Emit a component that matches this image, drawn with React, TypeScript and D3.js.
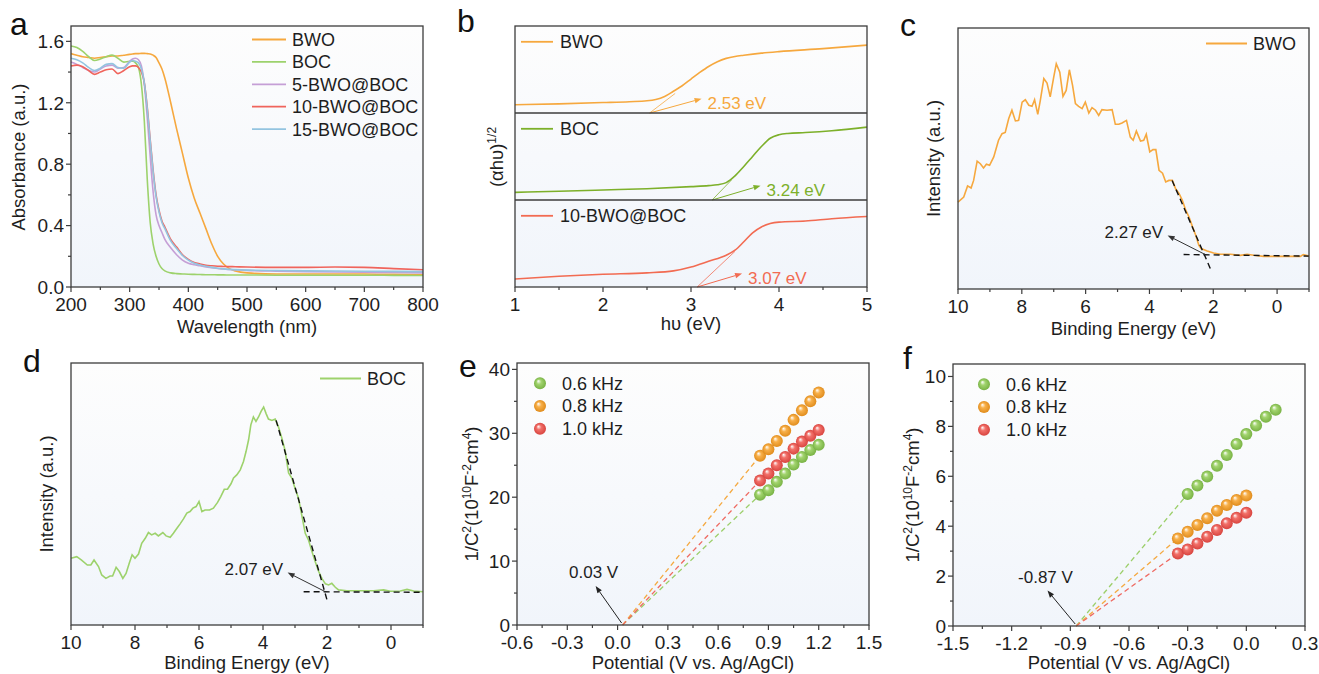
import React from 'react';
import * as d3 from 'd3';

const FONT = '"Liberation Sans", Arial, Helvetica, sans-serif';
const INK = '#1e1e1e';
const FRAME = '#3c3c3c';

// ---------- panel a : UV-vis absorbance ----------
const wavelengths = [200, 210, 220, 230, 240, 250, 260, 270, 280, 290, 300, 305, 310, 315, 320, 325, 330, 335, 340, 345, 350, 355, 360, 370, 380, 390, 400, 410, 420, 430, 440, 450, 460, 470, 480, 500, 550, 600, 650, 700, 750, 800];
const absBWO = [1.52, 1.51, 1.5, 1.495, 1.49, 1.495, 1.5, 1.505, 1.505, 1.51, 1.515, 1.518, 1.52, 1.52, 1.522, 1.522, 1.52, 1.518, 1.51, 1.495, 1.46, 1.42, 1.36, 1.2, 1.03, 0.87, 0.71, 0.58, 0.48, 0.38, 0.28, 0.2, 0.15, 0.12, 0.105, 0.092, 0.085, 0.085, 0.085, 0.085, 0.082, 0.08];
const absBOC = [1.57, 1.56, 1.535, 1.5, 1.475, 1.485, 1.5, 1.51, 1.49, 1.465, 1.47, 1.47, 1.46, 1.43, 1.32, 1.08, 0.7, 0.42, 0.28, 0.2, 0.15, 0.12, 0.105, 0.092, 0.087, 0.085, 0.083, 0.082, 0.081, 0.08, 0.08, 0.079, 0.079, 0.078, 0.078, 0.078, 0.077, 0.077, 0.077, 0.077, 0.076, 0.075];
const abs5 = [1.465, 1.45, 1.43, 1.41, 1.4, 1.42, 1.44, 1.445, 1.425, 1.43, 1.47, 1.485, 1.49, 1.48, 1.44, 1.32, 1.1, 0.85, 0.62, 0.47, 0.4, 0.355, 0.31, 0.255, 0.21, 0.175, 0.155, 0.145, 0.138, 0.13, 0.125, 0.12, 0.117, 0.114, 0.112, 0.108, 0.103, 0.1, 0.098, 0.096, 0.094, 0.092];
const abs10 = [1.44, 1.445, 1.435, 1.41, 1.385, 1.4, 1.415, 1.42, 1.39, 1.41, 1.435, 1.44, 1.44, 1.43, 1.4, 1.33, 1.17, 0.96, 0.76, 0.6, 0.5, 0.43, 0.39, 0.31, 0.26, 0.21, 0.18, 0.16, 0.15, 0.142, 0.138, 0.135, 0.134, 0.133, 0.132, 0.13, 0.128, 0.128, 0.13, 0.128, 0.12, 0.112];
const abs15 = [1.49, 1.48, 1.46, 1.43, 1.41, 1.425, 1.45, 1.455, 1.43, 1.425, 1.465, 1.475, 1.47, 1.46, 1.42, 1.33, 1.16, 0.95, 0.75, 0.59, 0.49, 0.42, 0.38, 0.3, 0.25, 0.205, 0.175, 0.155, 0.143, 0.135, 0.128, 0.122, 0.118, 0.115, 0.113, 0.11, 0.107, 0.105, 0.104, 0.103, 0.102, 0.1];
const absSeries = [
  { name: 'BWO', color: '#F6A83E', values: absBWO },
  { name: 'BOC', color: '#9DD26C', values: absBOC },
  { name: '5-BWO@BOC', color: '#C59FD6', values: abs5 },
  { name: '10-BWO@BOC', color: '#F0645C', values: abs10 },
  { name: '15-BWO@BOC', color: '#93C4E0', values: abs15 },
];

// ---------- panel b : Tauc plots (normalised per sub-panel) ----------
const taucBWO: [number, number][] = [[1, 0.095], [1.5, 0.105], [2, 0.12], [2.3, 0.13], [2.5, 0.14], [2.6, 0.155], [2.7, 0.19], [2.8, 0.25], [2.9, 0.313], [3.0, 0.39], [3.1, 0.466], [3.2, 0.535], [3.3, 0.59], [3.4, 0.628], [3.5, 0.65], [3.6, 0.664], [3.8, 0.688], [4.0, 0.706], [4.5, 0.74], [5, 0.78]];
const taucBOC: [number, number][] = [[1, 0.088], [1.5, 0.1], [2, 0.115], [2.5, 0.13], [3, 0.154], [3.2, 0.165], [3.3, 0.175], [3.4, 0.2], [3.5, 0.277], [3.6, 0.385], [3.7, 0.5], [3.8, 0.615], [3.9, 0.71], [4.0, 0.75], [4.1, 0.765], [4.3, 0.775], [4.6, 0.796], [5, 0.838]];
const tauc10: [number, number][] = [[1, 0.092], [1.5, 0.123], [2, 0.146], [2.5, 0.162], [2.8, 0.185], [3.0, 0.23], [3.2, 0.296], [3.4, 0.365], [3.5, 0.423], [3.6, 0.52], [3.7, 0.623], [3.8, 0.69], [3.9, 0.73], [4.0, 0.746], [4.3, 0.758], [4.6, 0.785], [5, 0.81]];
const bandGaps = [2.53, 3.24, 3.07];
const tangentTops: [number, number][] = [[2.82, 0.225], [3.46, 0.23], [3.5, 0.41]];
const arrowTips: [number, number][] = [[3.12, 0.164], [3.79, 0.165], [3.58, 0.154]];
const taucPanels = [
  { name: 'BWO', color: '#F6A83E', pts: taucBWO },
  { name: 'BOC', color: '#7DB02A', pts: taucBOC },
  { name: '10-BWO@BOC', color: '#F26B52', pts: tauc10 },
];

// ---------- panels c, d : VB-XPS ----------
const vbBWO: [number, number][] = [[10.0, 33.3], [9.82, 35.2], [9.7, 39.5], [9.59, 38.7], [9.51, 41.6], [9.4, 49.0], [9.3, 48.0], [9.2, 46.4], [9.11, 47.8], [9.01, 47.4], [8.88, 50.6], [8.73, 57.0], [8.62, 59.5], [8.52, 60.0], [8.41, 65.3], [8.31, 68.5], [8.2, 64.4], [8.1, 64.6], [7.99, 71.6], [7.89, 72.5], [7.78, 70.4], [7.68, 70.0], [7.6, 72.5], [7.5, 66.9], [7.42, 72.3], [7.31, 80.6], [7.21, 78.9], [7.11, 73.6], [7.0, 81.2], [6.92, 86.3], [6.81, 83.1], [6.71, 73.8], [6.61, 76.1], [6.51, 84.0], [6.41, 78.0], [6.32, 71.0], [6.22, 70.0], [6.11, 69.1], [6.01, 71.6], [5.9, 67.4], [5.8, 69.5], [5.69, 68.5], [5.59, 66.5], [5.49, 68.7], [5.33, 68.5], [5.17, 68.7], [5.07, 63.1], [4.96, 63.1], [4.86, 63.6], [4.72, 64.6], [4.6, 58.2], [4.51, 57.0], [4.41, 60.5], [4.28, 56.7], [4.18, 57.0], [4.1, 59.3], [3.99, 52.5], [3.89, 53.4], [3.8, 53.4], [3.7, 45.5], [3.59, 44.4], [3.49, 41.0], [3.39, 41.6], [3.28, 41.6], [3.18, 38.4], [3.07, 36.5], [2.97, 34.0], [2.86, 30.1], [2.76, 27.6], [2.65, 23.8], [2.55, 20.6], [2.45, 16.7], [2.38, 15.5], [2.19, 14.6], [1.99, 13.8], [1.78, 13.3], [1.46, 13.3], [1.15, 12.9], [0.94, 13.3], [0.73, 12.9], [0.42, 12.5], [0.21, 12.5], [-0.1, 12.5], [-0.52, 12.5], [-0.73, 12.5], [-0.82, 13.2], [-1.0, 12.6]];
const vbBOC: [number, number][] = [[10.0, 25.5], [9.82, 26.1], [9.67, 24.8], [9.49, 22.9], [9.38, 22.9], [9.28, 24.8], [9.14, 22.3], [9.04, 19.1], [8.91, 17.8], [8.78, 18.7], [8.7, 18.7], [8.59, 22.0], [8.49, 20.4], [8.38, 17.8], [8.28, 19.7], [8.18, 23.6], [8.09, 26.8], [8.0, 25.5], [7.89, 27.1], [7.79, 31.2], [7.68, 33.1], [7.58, 35.3], [7.48, 34.4], [7.37, 35.0], [7.27, 34.0], [7.13, 35.3], [7.03, 34.0], [6.9, 33.5], [6.8, 35.0], [6.69, 36.9], [6.59, 38.6], [6.49, 40.4], [6.38, 42.7], [6.28, 43.3], [6.19, 44.6], [6.09, 45.2], [6.0, 47.1], [5.91, 43.3], [5.81, 43.9], [5.67, 43.9], [5.55, 44.6], [5.42, 46.8], [5.32, 49.0], [5.21, 51.8], [5.11, 51.8], [5.0, 53.9], [4.92, 56.1], [4.82, 57.3], [4.71, 59.2], [4.61, 62.4], [4.53, 66.2], [4.45, 70.7], [4.38, 76.4], [4.3, 79.4], [4.22, 77.7], [4.14, 79.4], [4.06, 81.5], [3.98, 83.2], [3.9, 80.6], [3.83, 78.6], [3.72, 78.1], [3.62, 78.6], [3.52, 75.8], [3.41, 71.3], [3.31, 66.6], [3.2, 58.0], [3.1, 56.1], [2.99, 51.8], [2.89, 48.4], [2.78, 41.4], [2.68, 35.0], [2.58, 32.5], [2.47, 28.0], [2.37, 24.2], [2.26, 20.4], [2.16, 17.8], [2.05, 15.7], [1.95, 15.3], [1.85, 15.9], [1.74, 14.4], [1.64, 13.4], [1.38, 13.1], [0.96, 13.1], [0.54, 13.1], [0.23, 13.4], [0.02, 12.9], [-0.29, 13.0], [-0.5, 13.6], [-0.71, 13.0], [-1.0, 12.7]];
const vbBWOfit = { slope: [[3.29, 41.6], [2.06, 6.9]] as [number, number][], base: [[2.93, 13.2], [-1.0, 12.6]] as [number, number][], edge: 2.27 };
const vbBOCfit = { slope: [[3.59, 78.1], [2.0, 9.6]] as [number, number][], base: [[2.73, 12.7], [-1.0, 12.5]] as [number, number][], edge: 2.07 };

// ---------- panels e, f : Mott-Schottky ----------
const freqLabels = ['0.6 kHz', '0.8 kHz', '1.0 kHz'];
const msE_V = [0.85, 0.9, 0.95, 1.0, 1.05, 1.1, 1.15, 1.2];
const msE_06 = [20.4, 21.1, 22.4, 23.7, 25.1, 26.3, 27.4, 28.2];
const msE_08 = [26.5, 27.5, 28.8, 30.4, 32.1, 33.6, 35.0, 36.4];
const msE_10 = [22.6, 23.7, 25.0, 26.3, 27.6, 28.7, 29.6, 30.5];
const msE_fb = 0.03;
const msF_V06 = [-0.3, -0.25, -0.2, -0.15, -0.1, -0.05, 0, 0.05, 0.1, 0.15];
const msF_V = [-0.35, -0.3, -0.25, -0.2, -0.15, -0.1, -0.05, 0];
const msF_06 = [5.29, 5.63, 5.99, 6.42, 6.85, 7.29, 7.69, 8.04, 8.39, 8.67];
const msF_08 = [3.51, 3.78, 4.05, 4.32, 4.62, 4.85, 5.05, 5.23];
const msF_10 = [2.91, 3.07, 3.31, 3.58, 3.85, 4.12, 4.34, 4.54];
const msF_fb = -0.87;

const sphereColors = [
  { id: 'sg', base: '#A2D46E', dark: '#78B244' },
  { id: 'so', base: '#F8B04A', dark: '#E08C1C' },
  { id: 'sr', base: '#F2716A', dark: '#D8443F' },
];
const msLine = ['#9CCF6A', '#F5A940', '#EF6A62'];

type Box = { l: number; r: number; t: number; b: number };
const boxA: Box = { l: 71, r: 423, t: 26, b: 287 };
const boxB: Box = { l: 515, r: 867, t: 26, b: 287 };
const boxC: Box = { l: 958, r: 1309, t: 28, b: 289 };
const boxD: Box = { l: 71, r: 423, t: 363, b: 625 };
const boxE: Box = { l: 517, r: 869, t: 363, b: 625 };
const boxF: Box = { l: 953, r: 1305, t: 364, b: 626 };

const TICK = 19;
const TITLE = 18.5;
const titleY = (box: Box) => Math.min(box.b + 46, 669);
const fmt1 = (v: number) => d3.format('.1f')(v).replace('−', '-');

function Frame({ box }: { box: Box }) {
  return <rect x={box.l} y={box.t} width={box.r - box.l} height={box.b - box.t} fill="none" stroke={FRAME} strokeWidth={1.3} />;
}
function Bg({ box }: { box: Box }) {
  return <rect x={box.l} y={box.t} width={box.r - box.l} height={box.b - box.t} fill="url(#plotBg)" />;
}

function XAxis({ s, box, major, minor, fmt }: { s: d3.ScaleLinear<number, number>; box: Box; major: number[]; minor: number[]; fmt: (v: number) => string }) {
  return (
    <g>
      {minor.map((v) => <line key={'m' + v} x1={s(v)} x2={s(v)} y1={box.b} y2={box.b + 3} stroke={FRAME} strokeWidth={1.2} />)}
      {major.map((v) => (
        <g key={'M' + v}>
          <line x1={s(v)} x2={s(v)} y1={box.b} y2={box.b + 5} stroke={FRAME} strokeWidth={1.2} />
          <text x={s(v)} y={box.b + 24} textAnchor="middle" fontSize={TICK} fill={INK}>{fmt(v)}</text>
        </g>
      ))}
    </g>
  );
}
function YAxis({ s, box, major, minor, fmt }: { s: d3.ScaleLinear<number, number>; box: Box; major: number[]; minor: number[]; fmt: (v: number) => string }) {
  return (
    <g>
      {minor.map((v) => <line key={'m' + v} y1={s(v)} y2={s(v)} x1={box.l} x2={box.l - 3} stroke={FRAME} strokeWidth={1.2} />)}
      {major.map((v) => (
        <g key={'M' + v}>
          <line y1={s(v)} y2={s(v)} x1={box.l} x2={box.l - 5} stroke={FRAME} strokeWidth={1.2} />
          <text x={box.l - 7} y={s(v)} dy="0.36em" textAnchor="end" fontSize={TICK} fill={INK}>{fmt(v)}</text>
        </g>
      ))}
    </g>
  );
}

function Arrow({ x1, y1, x2, y2, color, head = 7 }: { x1: number; y1: number; x2: number; y2: number; color: string; head?: number }) {
  const a = Math.atan2(y2 - y1, x2 - x1);
  const bx = x2 - head * Math.cos(a);
  const by = y2 - head * Math.sin(a);
  const hw = head * 0.38;
  const pts = [[x2, y2], [bx - hw * Math.sin(a), by + hw * Math.cos(a)], [bx + hw * Math.sin(a), by - hw * Math.cos(a)]];
  return (
    <g>
      <line x1={x1} y1={y1} x2={bx} y2={by} stroke={color} strokeWidth={1} />
      <polygon points={pts.map((p) => p.join(',')).join(' ')} fill={color} />
    </g>
  );
}

function PanelLetter({ x, y, t, size = 32 }: { x: number; y: number; t: string; size?: number }) {
  return <text x={x} y={y} fontSize={size} fill="#111">{t}</text>;
}

const range = (a: number, b: number, step: number) => d3.range(Math.round((b - a) / step) + 1).map((i) => +(a + i * step).toFixed(4));

function PanelA() {
  const x = d3.scaleLinear().domain([200, 800]).range([boxA.l, boxA.r]);
  const y = d3.scaleLinear().domain([0, 1.7]).range([boxA.b, boxA.t]);
  const line = d3.line<number>().x((_, i) => x(wavelengths[i])).y((v) => y(v)).curve(d3.curveMonotoneX);
  return (
    <g>
      <Bg box={boxA} />
      {absSeries.map((s) => <path key={s.name} d={line(s.values) || ''} fill="none" stroke={s.color} strokeWidth={1.6} />)}
      {absSeries.map((s, i) => (
        <g key={'lg' + s.name}>
          <line x1={252} x2={286} y1={39.5 + i * 22.4} y2={39.5 + i * 22.4} stroke={s.color} strokeWidth={1.8} />
          <text x={292} y={39.5 + i * 22.4} dy="0.36em" fontSize={18} fill={INK}>{s.name}</text>
        </g>
      ))}
      <Frame box={boxA} />
      <XAxis s={x} box={boxA} major={range(200, 800, 100)} minor={range(250, 750, 100)} fmt={(v) => String(v)} />
      <YAxis s={y} box={boxA} major={range(0, 1.6, 0.4)} minor={range(0.2, 1.4, 0.4)} fmt={fmt1} />
      <text x={(boxA.l + boxA.r) / 2} y={333} textAnchor="middle" fontSize={TITLE} fill={INK}>Wavelength (nm)</text>
      <text transform={`translate(25,157) rotate(-90)`} textAnchor="middle" fontSize={TITLE} fill={INK}>Absorbance (a.u.)</text>
      <PanelLetter x={10} y={35} t="a" />
    </g>
  );
}

function PanelB() {
  const x = d3.scaleLinear().domain([1, 5]).range([boxB.l, boxB.r]);
  const h = (boxB.b - boxB.t) / 3;
  return (
    <g>
      <Bg box={boxB} />
      {taucPanels.map((p, i) => {
        const top = boxB.t + i * h;
        const y = d3.scaleLinear().domain([0, 1]).range([top + h, top]);
        const line = d3.line<[number, number]>().x((d) => x(d[0])).y((d) => y(d[1])).curve(d3.curveMonotoneX);
        const g = bandGaps[i];
        const tt = tangentTops[i];
        const at = arrowTips[i];
        return (
          <g key={p.name}>
            <path d={line(p.pts) || ''} fill="none" stroke={p.color} strokeWidth={1.6} />
            <line x1={x(g)} y1={y(0)} x2={x(tt[0])} y2={y(tt[1])} stroke={p.color} strokeWidth={0.9} opacity={0.85} />
            <Arrow x1={x(g)} y1={y(0)} x2={x(at[0])} y2={y(at[1])} color={p.color} />
            <text x={x(at[0]) + 6} y={y(at[1]) + 10} fontSize={17} fill={p.color}>{g.toFixed(2)} eV</text>
            <line x1={521} x2={553} y1={top + 15.8} y2={top + 15.8} stroke={p.color} strokeWidth={1.8} />
            <text x={560} y={top + 15.8} dy="0.36em" fontSize={18} fill={INK}>{p.name}</text>
            {i > 0 && <line x1={boxB.l} x2={boxB.r} y1={top} y2={top} stroke={FRAME} strokeWidth={1.3} />}
          </g>
        );
      })}
      <Frame box={boxB} />
      <XAxis s={x} box={boxB} major={range(1, 5, 1)} minor={range(1.5, 4.5, 1)} fmt={(v) => String(v)} />
      <text x={(boxB.l + boxB.r) / 2} y={330} textAnchor="middle" fontSize={TITLE} fill={INK}>hυ (eV)</text>
      <text transform={`translate(503,157) rotate(-90)`} textAnchor="middle" fontSize={TITLE} fill={INK}>
        (αhυ)<tspan dy={-7} fontSize={12}>1/2</tspan>
      </text>
      <PanelLetter x={457} y={32} t="b" />
    </g>
  );
}

function VBPanel({ box, data, fit, color, name, letter, letterPos, ylabX }: { box: Box; data: [number, number][]; fit: typeof vbBWOfit; color: string; name: string; letter: string; letterPos: [number, number]; ylabX: number }) {
  const x = d3.scaleLinear().domain([10, -1]).range([box.l, box.r]);
  const y = d3.scaleLinear().domain([0, 100]).range([box.b, box.t]);
  const line = d3.line<[number, number]>().x((d) => x(d[0])).y((d) => y(d[1]));
  const fitY = fit.base[0][1];
  return (
    <g>
      <Bg box={box} />
      <path d={line(data) || ''} fill="none" stroke={color} strokeWidth={1.6} />
      <line x1={x(fit.slope[0][0])} y1={y(fit.slope[0][1])} x2={x(fit.slope[1][0])} y2={y(fit.slope[1][1])} stroke="#111" strokeWidth={1.4} strokeDasharray="6 4" />
      <line x1={x(fit.base[0][0])} y1={y(fit.base[0][1])} x2={x(fit.base[1][0])} y2={y(fit.base[1][1])} stroke="#111" strokeWidth={1.4} strokeDasharray="6 4" />
      <Arrow x1={x(fit.edge - 0.02)} y1={y(fitY)} x2={x(fit.edge + 1.16)} y2={y(fitY + 7.3)} color="#333" />
      <text x={x(fit.edge + 1.3)} y={y(fitY + 6.3)} textAnchor="end" fontSize={17} fill={INK}>{fit.edge.toFixed(2)} eV</text>
      <line x1={box.r - 103} x2={box.r - 62} y1={box.t + 15.5} y2={box.t + 15.5} stroke={color} strokeWidth={1.8} />
      <text x={box.r - 56} y={box.t + 15.5} dy="0.36em" fontSize={18} fill={INK}>{name}</text>
      <Frame box={box} />
      <XAxis s={x} box={box} major={range(0, 10, 2)} minor={range(-1, 9, 2)} fmt={(v) => String(v)} />
      <text x={(box.l + box.r) / 2} y={titleY(box)} textAnchor="middle" fontSize={TITLE} fill={INK}>Binding Energy (eV)</text>
      <text transform={`translate(${ylabX},${(box.t + box.b) / 2}) rotate(-90)`} textAnchor="middle" fontSize={TITLE} fill={INK}>Intensity (a.u.)</text>
      <PanelLetter x={letterPos[0]} y={letterPos[1]} t={letter} />
    </g>
  );
}

function MSPanel({ box, xDom, yDom, xMajor, xMinor, yMajor, yMinor, series, fb, labelAt, letter, letterPos, ylabX, legendX }: {
  box: Box; xDom: [number, number]; yDom: [number, number]; xMajor: number[]; xMinor: number[]; yMajor: number[]; yMinor: number[];
  series: { xs: number[]; ys: number[] }[]; fb: number; labelAt: [number, number]; letter: string; letterPos: [number, number]; ylabX: number; legendX: number;
}) {
  const x = d3.scaleLinear().domain(xDom).range([box.l, box.r]);
  const y = d3.scaleLinear().domain(yDom).range([box.b, box.t]);
  const order = [0, 2, 1];
  return (
    <g>
      <Bg box={box} />
      {series.map((s, i) => (
        <line key={'d' + i} x1={x(fb)} y1={y(0)} x2={x(s.xs[0])} y2={y(s.ys[0])} stroke={msLine[i]} strokeWidth={1.3} strokeDasharray="5 3.5" />
      ))}
      {order.map((i) => series[i].xs.map((v, j) => (
        <circle key={i + '-' + j} cx={x(v)} cy={y(series[i].ys[j])} r={6} fill={`url(#${sphereColors[i].id})`} />
      )))}
      <Arrow x1={x(fb) - 1} y1={y(0) - 2} x2={x(labelAt[0]) + 2} y2={y(labelAt[1]) + 2} color="#222" />
      <text x={x(labelAt[0])} y={y(labelAt[1]) - 6} textAnchor="middle" fontSize={17} fill={INK}>{fb.toFixed(2)} V</text>
      {freqLabels.map((f, i) => (
        <g key={f}>
          <circle cx={legendX} cy={box.t + 20.3 + i * 22.7} r={6} fill={`url(#${sphereColors[i].id})`} />
          <text x={legendX + 22} y={box.t + 20.3 + i * 22.7} dy="0.36em" fontSize={18} fill={INK}>{f}</text>
        </g>
      ))}
      <Frame box={box} />
      <XAxis s={x} box={box} major={xMajor} minor={xMinor} fmt={fmt1} />
      <YAxis s={y} box={box} major={yMajor} minor={yMinor} fmt={(v) => String(v)} />
      <text x={(box.l + box.r) / 2} y={titleY(box)} textAnchor="middle" fontSize={TITLE} fill={INK}>Potential (V vs. Ag/AgCl)</text>
      <text transform={`translate(${ylabX},${(box.t + box.b) / 2}) rotate(-90)`} textAnchor="middle" fontSize={TITLE} fill={INK}>
        1/C<tspan dy={-7} fontSize={12}>2</tspan><tspan dy={7}>(10</tspan><tspan dy={-7} fontSize={12}>10</tspan><tspan dy={7}>F</tspan><tspan dy={-7} fontSize={12}>-2</tspan><tspan dy={7}>cm</tspan><tspan dy={-7} fontSize={12}>4</tspan><tspan dy={7}>)</tspan>
      </text>
      <PanelLetter x={letterPos[0]} y={letterPos[1]} t={letter} />
    </g>
  );
}

export default function App() {
  return (
    <svg width={1319} height={674} style={{ position: 'absolute', left: 0, top: 0, background: '#fff' }} fontFamily={FONT}>
      <defs>
        <linearGradient id="plotBg" x1="0" y1="0" x2="0" y2="1">
          <stop offset="0" stopColor="#fdfdfd" />
          <stop offset="1" stopColor="#f1f5fb" />
        </linearGradient>
        {sphereColors.map((c) => (
          <radialGradient key={c.id} id={c.id} cx="0.5" cy="0.5" r="0.5" fx="0.35" fy="0.3">
            <stop offset="0" stopColor="#ffffff" stopOpacity={0.95} />
            <stop offset="0.4" stopColor={c.base} />
            <stop offset="1" stopColor={c.dark} />
          </radialGradient>
        ))}
      </defs>
      <PanelA />
      <PanelB />
      <VBPanel box={boxC} data={vbBWO} fit={vbBWOfit} color="#F6A83E" name="BWO" letter="c" letterPos={[900, 36]} ylabX={940} />
      <VBPanel box={boxD} data={vbBOC} fit={vbBOCfit} color="#9DD26C" name="BOC" letter="d" letterPos={[23, 372]} ylabX={53} />
      <MSPanel box={boxE} xDom={[-0.6, 1.5]} yDom={[0, 41]} xMajor={range(-0.6, 1.5, 0.3)} xMinor={range(-0.45, 1.35, 0.3)} yMajor={range(0, 40, 10)} yMinor={range(5, 35, 10)}
        series={[{ xs: msE_V, ys: msE_06 }, { xs: msE_V, ys: msE_08 }, { xs: msE_V, ys: msE_10 }]} fb={msE_fb} labelAt={[-0.143, 6.4]} letter="e" letterPos={[459, 377]} ylabX={478} legendX={540} />
      <MSPanel box={boxF} xDom={[-1.5, 0.3]} yDom={[0, 10.5]} xMajor={range(-1.5, 0.3, 0.3)} xMinor={range(-1.35, 0.15, 0.3)} yMajor={range(0, 10, 2)} yMinor={range(1, 9, 2)}
        series={[{ xs: msF_V06, ys: msF_06 }, { xs: msF_V, ys: msF_08 }, { xs: msF_V, ys: msF_10 }]} fb={msF_fb} labelAt={[-1.027, 1.5]} letter="f" letterPos={[903, 369]} ylabX={919} legendX={984} />
    </svg>
  );
}
